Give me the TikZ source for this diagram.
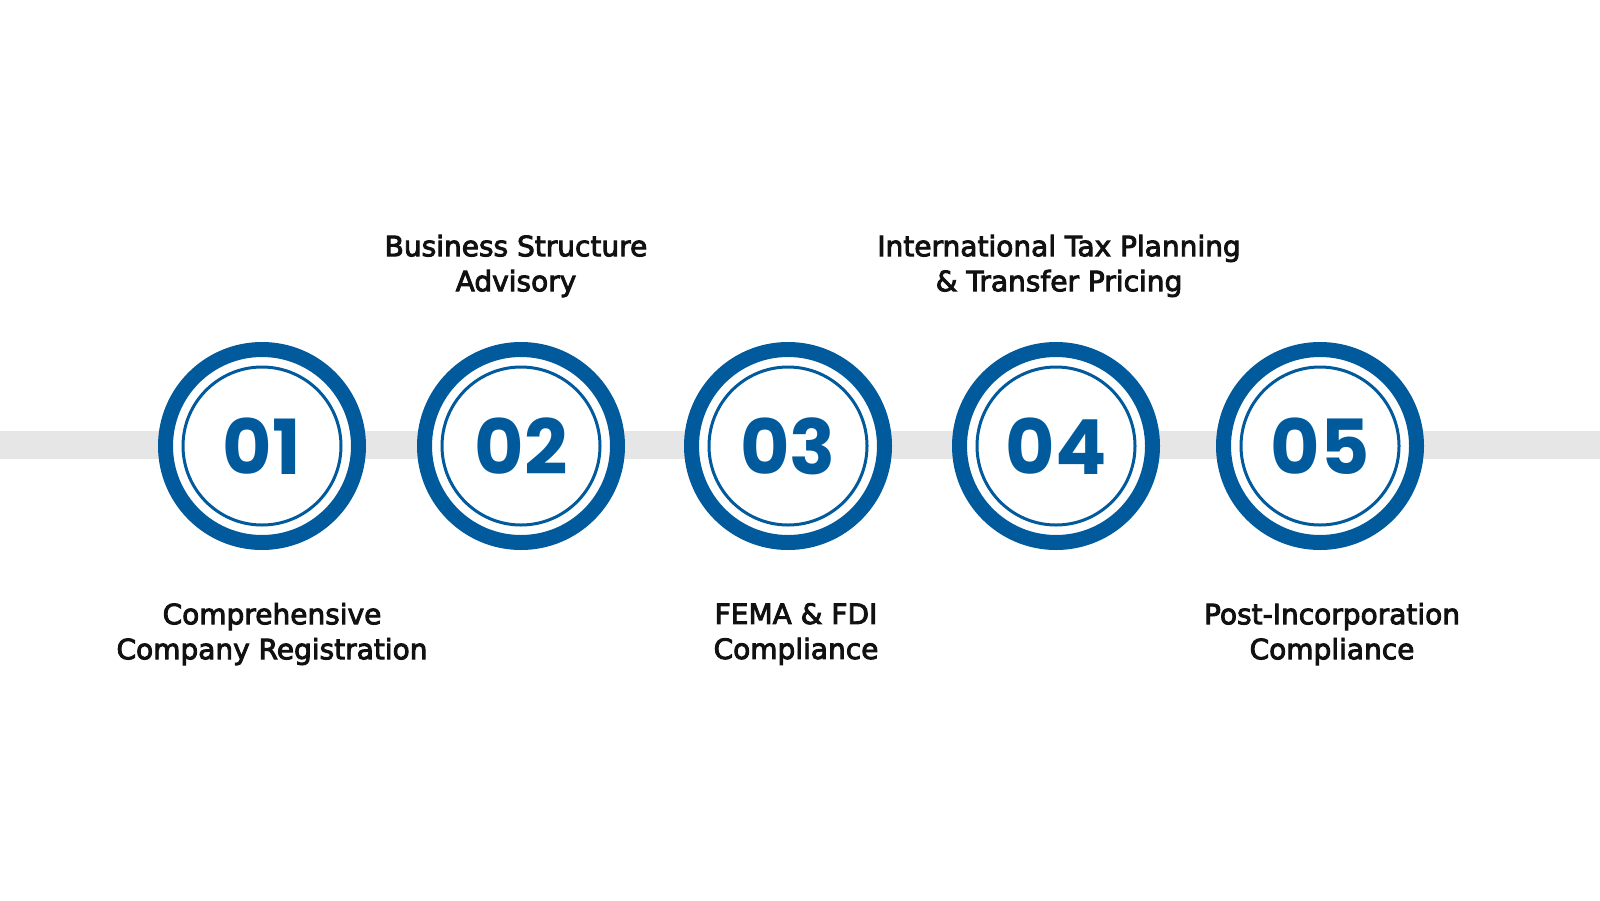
\documentclass[tikz,border=0pt]{standalone}
\usepackage{fontspec}
\newfontfamily\numfont{Poppins}
\newfontfamily\labfont{DejaVu Sans}
\newcommand{\medon}{\special{pdf:literal direct 2 Tr 0.45 w}}
\newcommand{\medoff}{\special{pdf:literal direct 0 Tr}}
\definecolor{ringblue}{RGB}{0,90,156}
\definecolor{bargray}{RGB}{230,230,230}
\definecolor{labink}{RGB}{17,17,17}
\begin{document}
\begin{tikzpicture}[x=0.5pt,y=-0.5pt,
  ring/.style={circle, draw=ringblue, fill=white, line width=7.5pt, minimum size=96.5pt, inner sep=0pt},
  innerring/.style={draw=ringblue, line width=1.5pt},
  num/.style={text=ringblue, font=\numfont\bfseries\fontsize{38pt}{38pt}\selectfont, inner sep=0pt},
  lab/.style={align=center, text=labink, font=\labfont\fontsize{14pt}{17.5pt}\selectfont}]
\useasboundingbox (0,0) rectangle (1600,900);
\fill[white] (0,0) rectangle (1600,900);
\coordinate (barL) at (0,445);
\coordinate (barR) at (1600,445);
\draw[bargray, line width=14pt] (barL) -- (barR);
\foreach \i/\x in {1/262,2/521,3/788,4/1056,5/1320}{
  \node[ring] (c\i) at (\x,446) {};
  \draw[innerring] (c\i.center) circle[radius=79];
  \node[num] (n\i) at (c\i.center) {0\i};
}
\node[lab] (t2) at (516,266) {\medon Business Structure\\\medon Advisory\medoff};
\node[lab] (t4) at (1059,266) {\medon International Tax Planning\\\medon\& Transfer Pricing\medoff};
\node[lab] (t1) at (272,634) {\medon Comprehensive\\\medon Company Registration\medoff};
\node[lab] (t3) at (796,634) {\medon FEMA \& FDI\\\medon Compliance\medoff};
\node[lab] (t5) at (1332,634) {\medon Post-Incorporation\\\medon Compliance\medoff};
\end{tikzpicture}
\end{document}
